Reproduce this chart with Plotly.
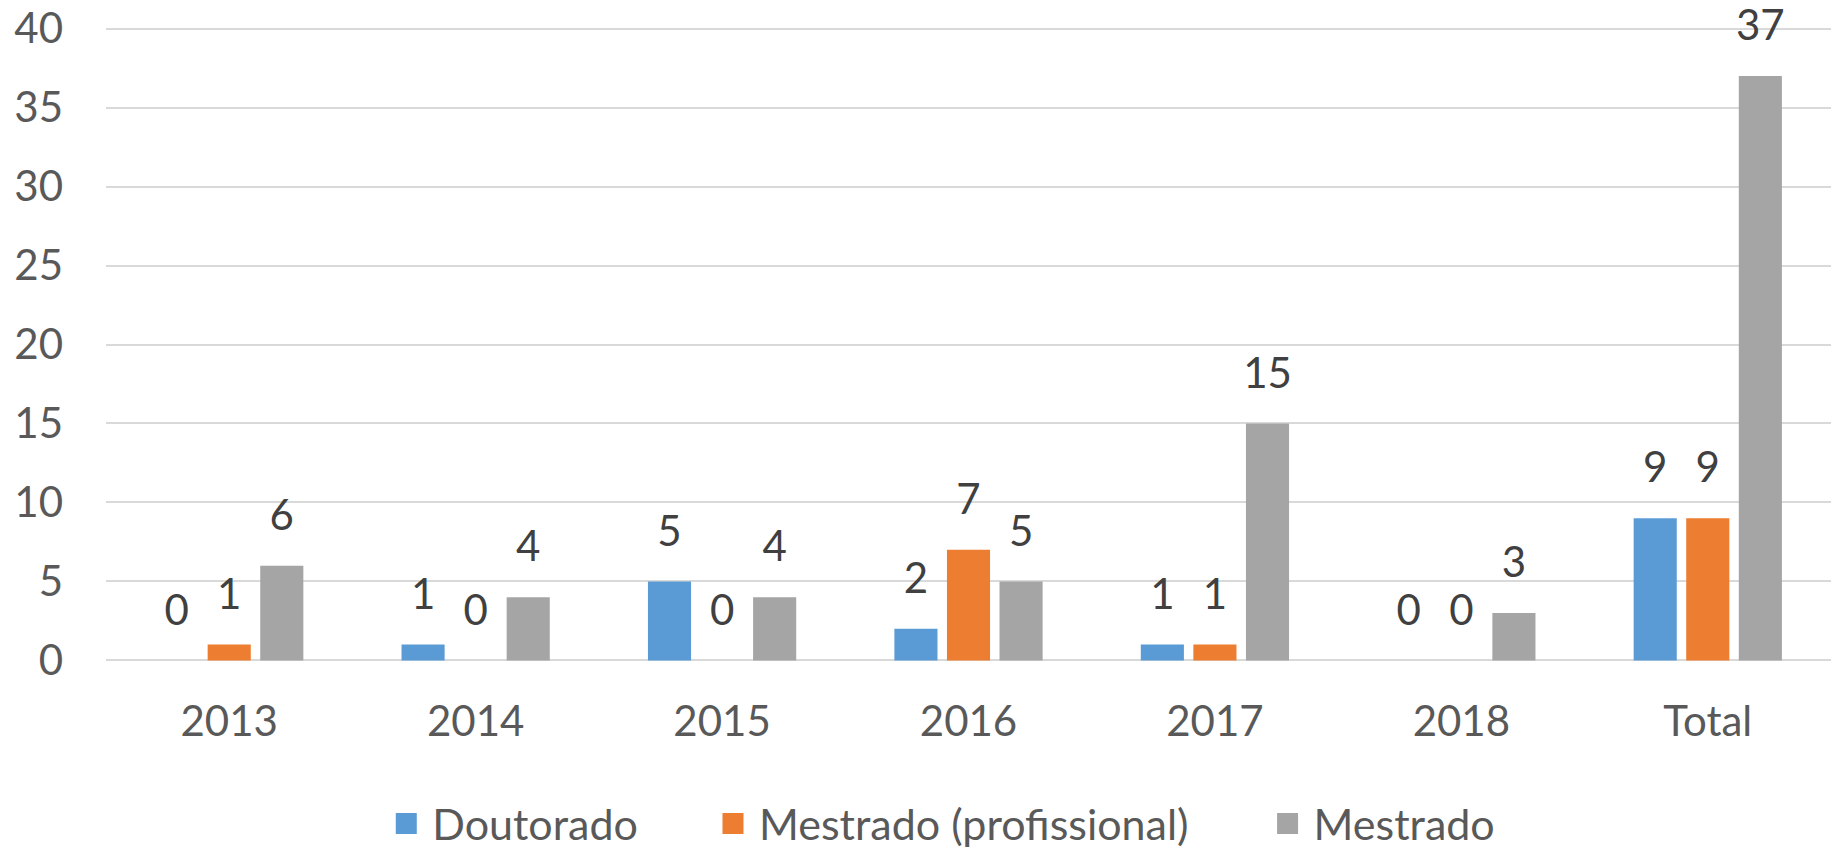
import plotly.graph_objects as go

categories = ["2013", "2014", "2015", "2016", "2017", "2018", "Total"]
doutorado = [0, 1, 5, 2, 1, 0, 9]
mestrado_prof = [1, 0, 0, 7, 1, 0, 9]
mestrado = [6, 4, 4, 5, 15, 3, 37]
series_names = ["Doutorado", "Mestrado (profissional)", "Mestrado"]
series_values = [doutorado, mestrado_prof, mestrado]
colors = ["#5B9BD5", "#ED7D31", "#A5A5A5"]
y_ticks = [0, 5, 10, 15, 20, 25, 30, 35, 40]

FONT = "Lato, Carlito, Calibri, sans-serif"
TXT = "#595959"
FS = 42
legends = ["legend", "legend2", "legend3"]

fig = go.Figure()
# bars
for name, vals, col in zip(series_names, series_values, colors):
    fig.add_trace(go.Bar(
        x=categories, y=vals, name=name, marker=dict(color=col, line=dict(width=0)),
        offsetgroup=name, showlegend=False, hoverinfo="x+y+name",
    ))
# data labels, positioned over each bar slot
for name, vals in zip(series_names, series_values):
    fig.add_trace(go.Scatter(
        x=categories, y=vals, mode="markers+text", text=[str(v) for v in vals],
        textposition="top center", offsetgroup=name, alignmentgroup="labels",
        showlegend=False, marker=dict(size=39, color="rgba(0,0,0,0)"), cliponaxis=False,
        textfont=dict(family=FONT, size=FS, color="#404040"), hoverinfo="skip",
    ))
# legend entries (square swatches)
for name, col, lg in zip(series_names, colors, legends):
    fig.add_trace(go.Scatter(
        x=[None], y=[None], mode="markers", name=name, legend=lg,
        alignmentgroup="legendonly", offsetgroup="legendonly",
        marker=dict(symbol="square", size=16, color=col, line=dict(width=5, color=col)),
    ))

leg_common = dict(orientation="h", yref="container", yanchor="middle", y=0.031,
                  xanchor="left", bgcolor="rgba(0,0,0,0)", itemwidth=42,
                  font=dict(family=FONT, size=43, color=TXT))

fig.update_layout(
    width=1833, height=850,
    margin=dict(l=106, r=2, t=27, b=188, autoexpand=False),
    paper_bgcolor="white", plot_bgcolor="white",
    barmode="group", bargap=0.36, bargroupgap=0.18,
    scattermode="group", scattergap=0.36,
    font=dict(family=FONT, size=FS, color=TXT),
    legend=dict(leg_common, x=0.159),
    legend2=dict(leg_common, x=0.3484),
    legend3=dict(leg_common, x=0.6699),
    xaxis=dict(type="category", showgrid=False, showline=False, zeroline=False,
               ticks="", ticklabelstandoff=31, automargin=False,
               tickfont=dict(family=FONT, size=FS, color=TXT)),
    yaxis=dict(range=[-0.1, 40.1], tickvals=y_ticks, showgrid=True, gridcolor="#D9D9D9",
               gridwidth=1.5, zeroline=False, showline=False, ticks="", automargin=False,
               ticklabelstandoff=42, tickfont=dict(family=FONT, size=FS, color=TXT)),
)

fig.write_html("out.html", config={"displayModeBar": False},
               post_script="document.body.style.margin='0px';")
